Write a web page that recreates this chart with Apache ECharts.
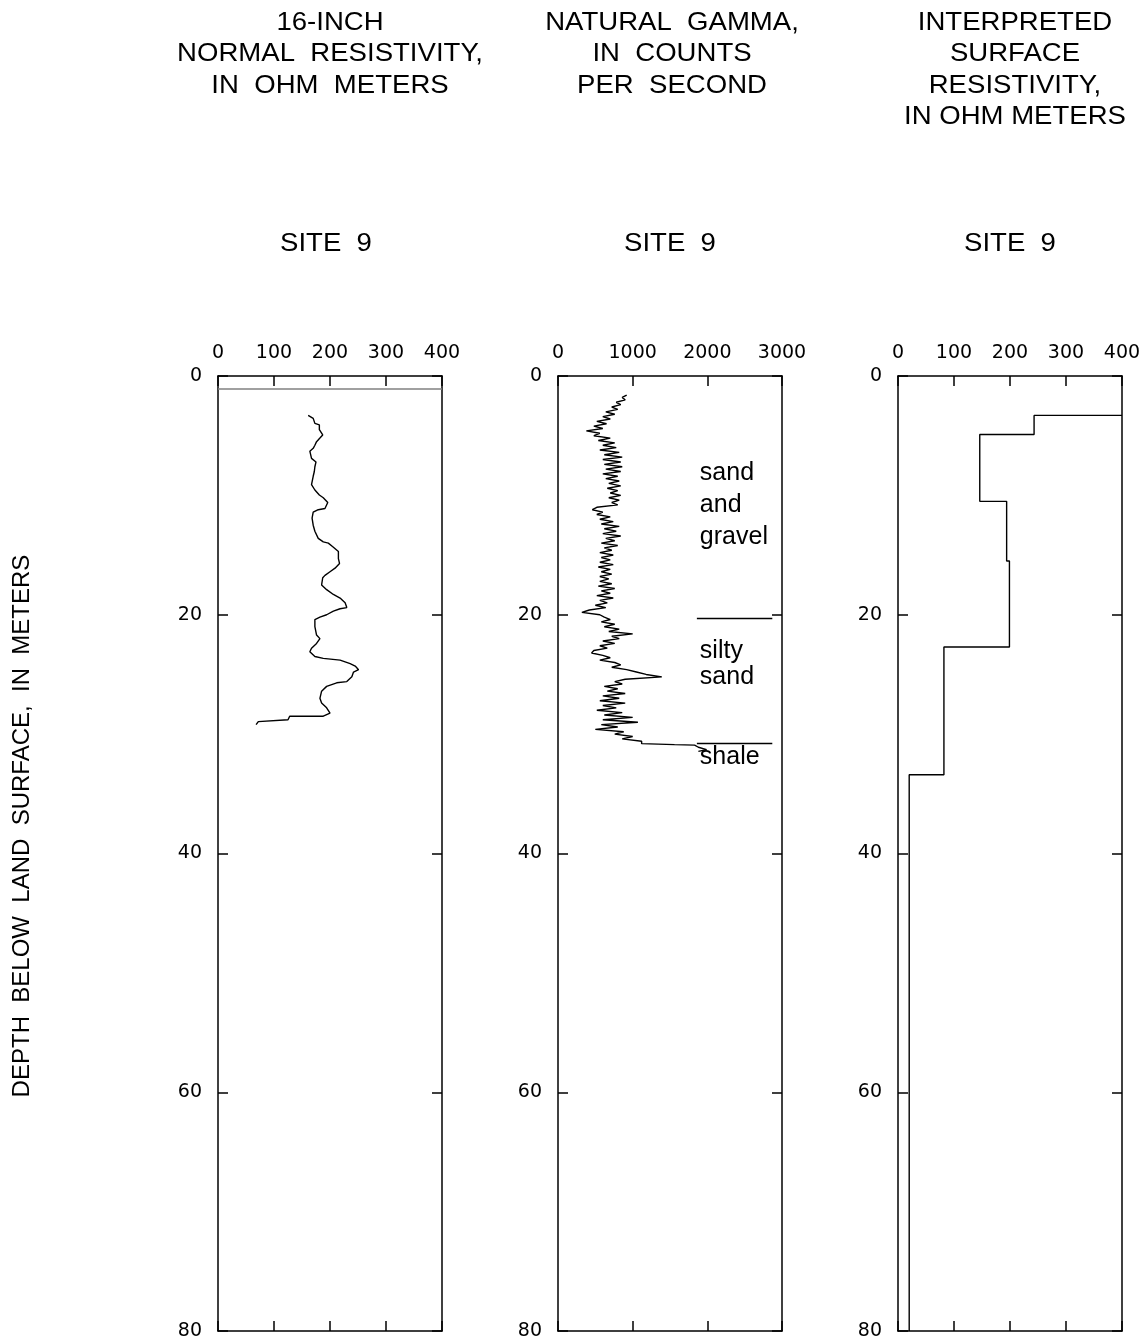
<!DOCTYPE html>
<html>
<head>
<meta charset="utf-8">
<script src="https://cdn.jsdelivr.net/npm/echarts@6/dist/echarts.min.js"></script>
<style>
  html, body { margin: 0; padding: 0; background: #fff; }
  #chart { width: 1148px; height: 1344px; }
</style>
</head>
<body>
<div id="chart"></div>
<script>
// 16-inch normal resistivity log (ohm m) vs depth (m)
const resDepth = [3.3, 3.55, 3.97, 4.1, 4.5, 4.94, 5.2, 5.5, 5.8, 6.06, 6.3, 6.9, 7.2, 7.6, 8.0, 8.4, 9.1, 9.55, 9.97, 10.2,
  10.6, 11.1, 11.2, 11.4, 11.9, 12.5, 13.0, 13.6, 13.9, 14.0, 14.3, 14.7, 15.3, 15.7, 16.1, 16.4, 16.7, 16.9, 17.5, 17.9,
  18.3, 18.6, 19.0, 19.4, 19.5, 19.7, 20.0, 20.2, 20.4, 21.0, 21.7, 22.0, 22.4, 22.8, 23.1, 23.5, 23.65, 23.8, 24.1, 24.3,
  24.6, 24.8, 25.2, 25.6, 25.7, 26.0, 26.4, 27.0, 27.4, 27.8, 28.25, 28.5, 28.5, 28.8, 28.95, 29.2];
const resValue = [161, 170, 173, 181, 181, 187, 182, 176, 173, 170, 164, 167, 175, 173, 172, 170, 167, 173, 181, 188,
  196, 191, 179, 170, 168, 170, 173, 179, 188, 197, 205, 215, 215, 217, 209, 200, 191, 187, 185, 194,
  206, 218, 227, 230, 218, 206, 194, 182, 173, 173, 176, 182, 176, 167, 164, 173, 188, 218, 236, 245,
  251, 242, 239, 230, 212, 194, 185, 182, 185, 194, 200, 188, 128, 125, 72, 68];
const casingDepth = 1.1;

// natural gamma log (counts per second) vs depth (m)
const gammaDepth = [1.6, 1.8, 2.0, 2.2, 2.4, 2.6, 2.8, 3.0, 3.2, 3.4, 3.6, 3.8, 4.0, 4.2, 4.4, 4.6, 4.8, 5.0, 5.2, 5.4,
  5.6, 5.8, 6.0, 6.2, 6.4, 6.6, 6.8, 7.0, 7.2, 7.4, 7.6, 7.8, 8.0, 8.2, 8.4, 8.6, 8.8, 9.0, 9.2, 9.4,
  9.6, 9.8, 10.0, 10.2, 10.4, 10.6, 10.8, 11.0, 11.2, 11.4, 11.6, 11.8, 12.0, 12.2, 12.4, 12.6, 12.8, 13.0, 13.2, 13.4,
  13.6, 13.8, 14.0, 14.2, 14.4, 14.6, 14.8, 15.0, 15.2, 15.4, 15.6, 15.8, 16.0, 16.2, 16.4, 16.6, 16.8, 17.0, 17.2, 17.4,
  17.6, 17.8, 18.0, 18.2, 18.4, 18.6, 18.8, 19.0, 19.2, 19.4, 19.6, 19.8, 20.0, 20.2, 20.4, 20.6, 20.8, 21.0, 21.2, 21.4,
  21.6, 21.8, 22.0, 22.2, 22.4, 22.6, 22.8, 23.0, 23.2, 23.4, 23.6, 23.8, 24.0, 24.2, 24.4, 24.6, 24.8, 25.0, 25.2, 25.4,
  25.6, 25.8, 26.0, 26.2, 26.4, 26.6, 26.8, 27.0, 27.2, 27.4, 27.6, 27.8, 28.0, 28.2, 28.4, 28.6, 28.8, 29.0, 29.2, 29.4,
  29.6, 29.8, 30.0, 30.2, 30.4, 30.6, 30.8, 30.88, 30.92, 31.1, 31.3, 31.45];
const gammaValue = [920, 860, 900, 780, 840, 720, 800, 640, 760, 600, 700, 520, 650, 480, 600, 380, 560, 480, 700, 540,
  760, 600, 780, 560, 820, 620, 860, 600, 840, 620, 860, 640, 840, 600, 800, 640, 820, 680, 840, 660,
  800, 700, 840, 680, 820, 720, 800, 520, 460, 600, 520, 700, 560, 740, 580, 820, 620, 780, 600, 840,
  640, 760, 580, 800, 620, 720, 560, 740, 580, 700, 560, 740, 540, 700, 580, 720, 560, 680, 560, 720,
  540, 760, 580, 700, 520, 740, 560, 660, 500, 640, 420, 320, 560, 620, 700, 580, 760, 620, 820, 680,
  1000, 720, 820, 600, 760, 560, 660, 480, 450, 600, 700, 560, 760, 840, 720, 920, 1050, 1180, 1390, 900,
  760, 860, 620, 800, 660, 900, 600, 820, 560, 900, 600, 780, 520, 860, 620, 1000, 600, 1070, 580, 800,
  500, 880, 760, 1000, 860, 1120, 1120, 1560, 1830, 1880, 1990, 1880];

// lithology boundaries and labels (gamma panel)
const contactDepth = [20.3, 30.75];
const contactFrom = 1860;
const contactTo = 2870;
const unitNames = ['sand\nand\ngravel', 'silty\nsand', 'shale'];
const unitDepth = [10.8, 24.1, 31.9];
const unitValue = [1900, 1900, 1900];

// interpreted surface resistivity layers: top depth of each layer and its resistivity
const layerTop = [3.3, 4.9, 10.5, 15.5, 22.7, 33.4];
const layerRes = [400, 243, 146, 194, 199, 82, 20];
const bottomDepth = 80;

// axis scales
const xMax = [400, 3000, 400];
const xStep = [100, 1000, 100];

// build step line for interpreted model
const stepData = [[layerRes[0], layerTop[0]]];
for (let i = 0; i < layerTop.length; i++) {
  stepData.push([layerRes[i + 1], layerTop[i]]);
  const next = i + 1 < layerTop.length ? layerTop[i + 1] : bottomDepth;
  stepData.push([layerRes[i + 1], next]);
}

const black = '#000';
const tickFont = { fontFamily: 'DejaVu Sans', fontSize: 19, color: black, formatter: v => String(v) };
const gridLefts = [218, 558, 898];

const grid = gridLefts.map(left => ({
  left, top: 376, width: 224, height: 955, containLabel: false, outerBoundsMode: 'none'
}));

const xAxis = [];
const yAxis = [];
gridLefts.forEach((_, i) => {
  ['top', 'bottom'].forEach(pos => {
    xAxis.push({
      gridIndex: i, type: 'value', position: pos,
      min: 0, max: xMax[i], interval: xStep[i],
      axisLine: { show: true, onZero: false, lineStyle: { color: black, width: 1.5 } },
      axisTick: { show: true, inside: true, length: 10, lineStyle: { color: black, width: 1.5 } },
      axisLabel: { show: pos === 'top', margin: 13, ...tickFont },
      splitLine: { show: false }
    });
  });
  ['left', 'right'].forEach(pos => {
    yAxis.push({
      gridIndex: i, type: 'value', position: pos, inverse: true,
      min: 0, max: 80, interval: 20,
      axisLine: { show: true, onZero: false, lineStyle: { color: black, width: 1.5 } },
      axisTick: { show: true, inside: true, length: 10, lineStyle: { color: black, width: 1.5 } },
      axisLabel: { show: pos === 'left', margin: 16, ...tickFont },
      splitLine: { show: false }
    });
  });
});

const lineStyle = { color: black, width: 1.4 };

const series = [
  {
    type: 'line', xAxisIndex: 0, yAxisIndex: 0, showSymbol: false, symbol: 'none',
    data: resDepth.map((d, k) => [resValue[k], d]), lineStyle,
    markLine: {
      silent: true, symbol: 'none', label: { show: false },
      lineStyle: { color: '#808080', width: 1.5, type: 'solid' },
      data: [[{ coord: [0, casingDepth] }, { coord: [xMax[0], casingDepth] }]]
    }
  },
  {
    type: 'line', xAxisIndex: 2, yAxisIndex: 2, showSymbol: false, symbol: 'none',
    data: gammaDepth.map((d, k) => [gammaValue[k], d]), lineStyle,
    markLine: {
      silent: true, symbol: 'none', label: { show: false },
      lineStyle: { color: black, width: 1.3, type: 'solid' },
      data: contactDepth.map(d => [{ coord: [contactFrom, d] }, { coord: [contactTo, d] }])
    }
  },
  {
    type: 'scatter', xAxisIndex: 2, yAxisIndex: 2, symbolSize: 0, silent: true,
    itemStyle: { opacity: 1 },
    data: unitNames.map((name, k) => ({
      value: [unitValue[k], unitDepth[k]], name,
      label: { lineHeight: k === 0 ? 32 : 26 }
    })),
    label: {
      show: true, position: 'right', distance: 0, formatter: p => p.name,
      fontFamily: 'Liberation Sans', fontSize: 25, color: black, opacity: 1, align: 'left'
    }
  },
  {
    type: 'line', xAxisIndex: 4, yAxisIndex: 4, showSymbol: false, symbol: 'none',
    data: stepData, lineStyle
  }
];

const titleFont = { fontFamily: 'Liberation Sans', fontSize: 26, fill: black, lineHeight: 31.5 };
const titles = [
  { x: 330, text: '16-INCH\nNORMAL  RESISTIVITY,\nIN  OHM  METERS' },
  { x: 672, text: 'NATURAL  GAMMA,\nIN  COUNTS\nPER  SECOND' },
  { x: 1015, text: 'INTERPRETED\nSURFACE\nRESISTIVITY,\nIN OHM METERS' }
];
const siteX = [326, 670, 1010];

const graphic = [];
titles.forEach(t => graphic.push({
  type: 'text', x: t.x, y: 7, scaleX: 1.06,
  style: { text: t.text, textAlign: 'center', textVerticalAlign: 'top', ...titleFont }
}));
siteX.forEach(x => graphic.push({
  type: 'text', x, y: 244, scaleX: 1.06,
  style: { text: 'SITE  9', textAlign: 'center', textVerticalAlign: 'middle', ...titleFont }
}));
graphic.push({
  type: 'text', x: 22, y: 826, rotation: Math.PI / 2,
  style: {
    text: 'DEPTH  BELOW  LAND  SURFACE,  IN  METERS', textAlign: 'center', textVerticalAlign: 'middle',
    fontFamily: 'Liberation Sans', fontSize: 24, fill: black
  }
});

const chart = echarts.init(document.getElementById('chart'));
chart.setOption({
  animation: false,
  backgroundColor: '#fff',
  grid, xAxis, yAxis, series, graphic
});
</script>
</body>
</html>
